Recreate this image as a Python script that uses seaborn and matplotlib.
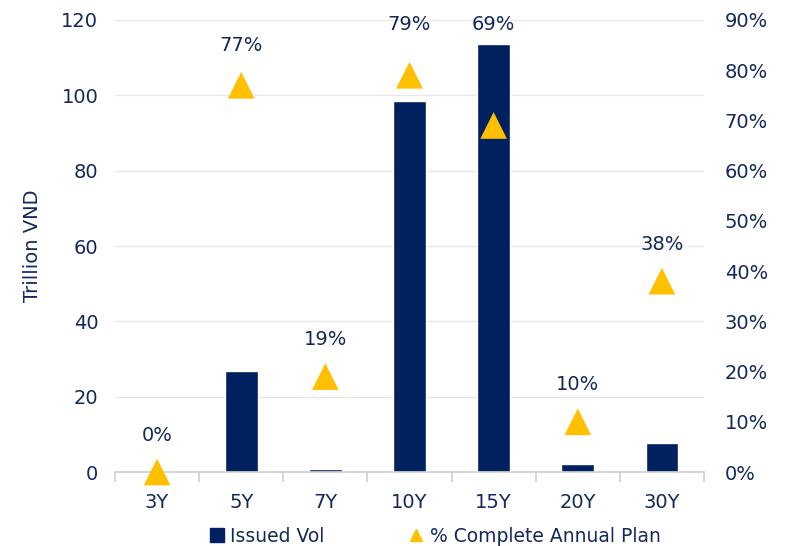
import matplotlib
matplotlib.use("Agg")
import matplotlib.pyplot as plt
import seaborn as sns
import pandas as pd
from matplotlib.lines import Line2D

tenors = ["3Y", "5Y", "7Y", "10Y", "15Y", "20Y", "30Y"]
issued_vol = [0.0, 26.8, 0.8, 98.5, 113.7, 2.1, 7.7]
pct_complete = [0, 77, 19, 79, 69, 10, 38]

NAVY = "#002060"
GOLD = "#FFC000"
TXT = "#14285E"

sns.set_theme(style="white")
plt.rcParams['font.family'] = ['DejaVu Sans']

df = pd.DataFrame({"tenor": tenors, "vol": issued_vol, "pct": pct_complete})

fig = plt.figure(figsize=(7.85, 5.46), dpi=100)
ax = fig.add_axes([0.1465, 0.1355, 0.7503, 0.8279])
sns.barplot(data=df, x="tenor", y="vol", color=NAVY, width=0.39, saturation=1, ax=ax)
ax.set_ylim(0, 120)
ax.set_yticks(range(0, 121, 20))
ax.set_xlim(-0.5, 6.5)
ax.grid(axis="y", color="#E8E8E8", linewidth=1)
ax.set_axisbelow(True)
for s in ["top", "right", "left"]:
    ax.spines[s].set_visible(False)
ax.spines["bottom"].set_color("#D0D0D0")
ax.spines["bottom"].set_linewidth(1.2)
ax.set_xlabel("")
ax.set_ylabel("Trillion VND", fontsize=14, color=TXT, labelpad=14)
ax.tick_params(axis="y", length=0, labelsize=14, labelcolor=TXT, pad=12)
ax.tick_params(axis="x", length=0, labelsize=14, labelcolor=TXT, pad=15)
ax.set_xticks([i + 0.5 for i in range(-1, 7)], minor=True)
ax.tick_params(axis="x", which="minor", length=7, color="#D0D0D0", width=1.2, bottom=True)

ax2 = ax.twinx()
sns.scatterplot(x=list(range(len(tenors))), y=df["pct"], marker="^", s=370,
                color=GOLD, edgecolor="none", ax=ax2, zorder=5, clip_on=False)
ax2.set_ylim(0, 90)
ax2.set_yticks(range(0, 91, 10))
ax2.set_yticklabels([f"{v}%" for v in range(0, 91, 10)])
ax2.tick_params(axis="y", length=0, labelsize=14, labelcolor=TXT, pad=15)
ax2.set_ylabel("")
for s in ["top", "right", "left", "bottom"]:
    ax2.spines[s].set_visible(False)

# label offsets (pixels above marker centre); lifted where a bar is in the way
label_px = [37, 40, 37, 51, 101, 37, 37]
for i, v in enumerate(pct_complete):
    ax2.annotate(f"{v}%", (i, v), xytext=(0, label_px[i] * 0.72), textcoords="offset points",
                 ha="center", va="center", fontsize=14, color=TXT)

handles = [
    Line2D([], [], marker="s", linestyle="none", color=NAVY, markersize=10),
    Line2D([], [], marker="^", linestyle="none", color=GOLD, markersize=9),
]
fig.legend(handles, ["Issued Vol", "% Complete Annual Plan"], loc="lower center",
           bbox_to_anchor=(0.553, -0.03), ncol=2, frameon=False, fontsize=13.5,
           labelcolor=TXT, handletextpad=0.2, columnspacing=4.4, handlelength=1)

fig.savefig("out.png", dpi=100)
